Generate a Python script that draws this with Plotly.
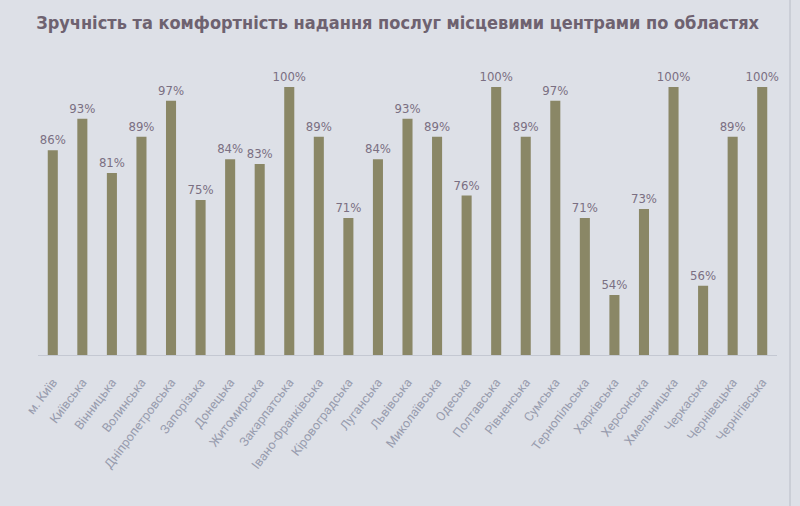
import plotly.graph_objects as go

regions = ["м. Київ", "Київська", "Вінницька", "Волинська", "Дніпропетровська",
           "Запорізька", "Донецька", "Житомирська", "Закарпатська", "Івано-Франківська",
           "Кіровоградська", "Луганська", "Львівська", "Миколаївська", "Одеська",
           "Полтавська", "Рівненська", "Сумська", "Тернопільська", "Харківська",
           "Херсонська", "Хмельницька", "Черкаська", "Чернівецька", "Чернігівська"]
values = [86, 93, 81, 89, 97, 75, 84, 83, 100, 89, 71, 84, 93, 89, 76,
          100, 89, 97, 71, 54, 73, 100, 56, 89, 100]
labels = [f"{v}%" for v in values]

bg = "#dde0e7"
narrow = "DejaVu Sans Condensed, Roboto, sans-serif"
fig = go.Figure(go.Bar(
    x=regions, y=values, text=labels, textposition="outside",
    marker=dict(color="#8a8766", line=dict(width=0)),
    textfont=dict(family=narrow, size=13, color="#7a6f82"),
    constraintext="none",
    cliponaxis=False,
))
fig.update_layout(
    width=800, height=506,
    paper_bgcolor=bg, plot_bgcolor=bg,
    margin=dict(l=38, r=23, t=69, b=151),
    bargap=0.66,
    showlegend=False,
    title=dict(text="<b>Зручність та комфортність надання послуг місцевими центрами по областях</b>",
               x=0.497, xanchor="center", y=0.955, yanchor="middle",
               font=dict(family=narrow, size=18, color="#6e6270")),
    xaxis=dict(tickangle=-53, tickfont=dict(family="Roboto, sans-serif", size=12.5, color="#989cae"),
               showline=True, linecolor="#c4c8d2", linewidth=1,
               ticks="outside", ticklen=14, tickcolor=bg, showgrid=False),
    yaxis=dict(range=[40.7, 104], visible=False, showgrid=False),
    shapes=[dict(type="line", xref="paper", yref="paper", x0=1.0176, x1=1.0176, y0=-0.55, y1=1.25,
                 line=dict(color="#b8bcc6", width=1))],
)
fig.write_html("out.html")
